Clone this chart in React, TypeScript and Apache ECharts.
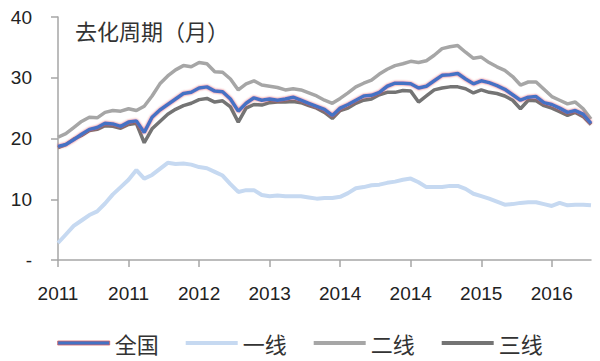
import React, { useEffect, useRef } from "react";
import * as echarts from "echarts";

// Monthly categories 2011-01 .. 2016-09
const months: string[] = [];
for (let y = 2011; y <= 2016; y++) {
  for (let m = 1; m <= 12; m++) {
    if (y === 2016 && m > 9) break;
    months.push(`${y}-${m < 10 ? "0" + m : m}`);
  }
}

const seriesNames = ["全国", "一线", "二线", "三线"];
const seriesColors = ["#4472c4", "#c6d9f1", "#a6a6a6", "#747474"];

const national = [
  18.7, 19.0, 19.8, 20.7, 21.5, 21.8, 22.5, 22.4, 22.0, 22.7, 22.9, 21.0,
  23.5, 24.7, 25.6, 26.5, 27.4, 27.6, 28.3, 28.5, 27.8, 27.7, 26.5, 24.5,
  25.8, 26.7, 26.3, 26.5, 26.3, 26.5, 26.8, 26.3, 25.8, 25.3, 24.8, 23.8,
  25.0, 25.6, 26.3, 27.0, 27.1, 27.6, 28.6, 29.1, 29.1, 29.0, 28.3, 28.6,
  29.5, 30.4, 30.5, 30.7, 29.8, 29.0, 29.5, 29.2, 28.7, 28.1, 27.2, 26.3,
  26.8, 26.9, 25.9, 25.6, 25.0, 24.3, 24.6, 24.0, 22.5,
];

const tier1 = [
  2.8, 4.2, 5.6, 6.5, 7.4, 8.0, 9.3, 10.8, 12.0, 13.2, 14.8, 13.4,
  14.0, 15.0, 16.0, 15.8, 15.9, 15.7, 15.3, 15.1, 14.5, 13.9, 12.5, 11.2,
  11.5, 11.5, 10.7, 10.5, 10.6, 10.5, 10.5, 10.5, 10.3, 10.1, 10.2, 10.2,
  10.4, 11.0, 11.8, 12.0, 12.3, 12.4, 12.7, 12.9, 13.2, 13.4, 12.8, 12.0,
  12.0, 12.0, 12.2, 12.2, 11.7, 10.9, 10.5, 10.1, 9.6, 9.1, 9.2, 9.4,
  9.5, 9.5, 9.2, 8.9, 9.4, 9.0, 9.1, 9.1, 9.0,
];

const tier2 = [
  20.2, 20.8, 21.8, 22.8, 23.5, 23.4, 24.3, 24.6, 24.5, 24.9, 24.6, 25.3,
  27.0, 29.0, 30.3, 31.3, 32.0, 31.8, 32.5, 32.3, 31.0, 30.9, 29.8, 28.0,
  29.0, 29.5, 28.8, 28.6, 28.4, 28.0, 28.2, 28.0, 27.5, 27.0, 26.3, 25.8,
  26.6, 27.5, 28.5, 29.1, 29.6, 30.6, 31.4, 32.0, 32.3, 32.7, 32.5, 32.8,
  33.7, 34.8, 35.1, 35.3, 34.2, 33.2, 33.4, 32.5, 31.8, 31.2, 30.2, 28.8,
  29.3, 29.3, 28.1, 26.9, 26.3, 25.7, 26.0, 24.9, 23.2,
];

const tier3 = [
  18.5, 19.0, 19.9, 20.5, 21.3, 21.5, 22.1, 22.0, 21.7, 22.3, 22.5, 19.3,
  21.6, 22.8, 24.0, 24.8, 25.4, 25.8, 26.4, 26.6, 26.0, 26.2, 25.2, 22.7,
  25.0, 25.6, 25.5, 25.9, 26.0, 26.0, 26.1, 25.9, 25.4, 25.0, 24.3, 23.3,
  24.6, 25.0, 25.8, 26.3, 26.5, 27.2, 27.6, 27.6, 27.9, 27.8, 26.0, 27.0,
  28.0, 28.3, 28.5, 28.5, 28.2, 27.5, 28.0, 27.6, 27.4, 27.0, 26.3, 24.9,
  26.3, 26.2, 25.4, 25.0, 24.4, 23.8, 24.3, 23.6, 22.3,
];

const titleText = "去化周期（月）";

export default function App() {
  const ref = useRef<HTMLDivElement>(null);
  useEffect(() => {
    document.body.style.margin = "0";
    if (!ref.current) return;
    const chart = echarts.init(ref.current, undefined, { renderer: "svg" });
    const latin = "Liberation Sans";
    const cjk = "Noto Sans CJK SC";
    chart.setOption({
      animation: false,
      title: {
        text: titleText,
        left: 70,
        top: 14,
        textStyle: { fontFamily: cjk, fontSize: 22, fontWeight: "normal", color: "#333" },
      },
      legend: {
        data: seriesNames.map((n, i) => ({
          name: n,
          icon: "rect",
          itemStyle:
            i === 0
              ? { color: seriesColors[i], borderColor: "#d86060", borderWidth: 0.8 }
              : { color: seriesColors[i], borderWidth: 0 },
        })),
        bottom: 2,
        left: "center",
        itemWidth: 52,
        itemHeight: 4,
        itemGap: 27,
        textStyle: { fontFamily: cjk, fontSize: 22, color: "#333" },
      },
      grid: { left: 58, right: 9, top: 17, bottom: 101, containLabel: false },
      xAxis: {
        type: "category",
        data: months,
        boundaryGap: false,
        axisLine: { lineStyle: { color: "#a6a6a6", width: 1.5 } },
        axisTick: { show: true, interval: 8, length: 7, lineStyle: { color: "#a6a6a6", width: 1.5 } },
        axisLabel: {
          interval: 8,
          margin: 24,
          fontFamily: latin,
          fontSize: 19,
          color: "#222",
          formatter: (v: string) => v.slice(0, 4),
        },
      },
      yAxis: {
        type: "value",
        min: 0,
        max: 40,
        interval: 10,
        splitLine: { show: false },
        axisLine: { show: true, lineStyle: { color: "#a6a6a6", width: 1.5 } },
        axisTick: { show: true, length: 7, lineStyle: { color: "#a6a6a6", width: 1.5 } },
        axisLabel: {
          margin: 26,
          fontFamily: latin,
          fontSize: 19,
          color: "#222",
          formatter: (v: number) => (v === 0 ? "-" : String(v)),
        },
      },
      series: [
        {
          name: "全国",
          type: "line",
          data: national,
          symbol: "none",
          z: 5,
          lineStyle: { color: seriesColors[0], width: 3.5, shadowColor: "rgba(220,60,60,0.8)", shadowBlur: 2 },
          itemStyle: { color: seriesColors[0] },
        },
        {
          name: "一线",
          type: "line",
          data: tier1,
          symbol: "none",
          z: 2,
          lineStyle: { color: seriesColors[1], width: 4 },
          itemStyle: { color: seriesColors[1] },
        },
        {
          name: "二线",
          type: "line",
          data: tier2,
          symbol: "none",
          z: 3,
          lineStyle: { color: seriesColors[2], width: 3.5 },
          itemStyle: { color: seriesColors[2] },
        },
        {
          name: "三线",
          type: "line",
          data: tier3,
          symbol: "none",
          z: 4,
          lineStyle: { color: seriesColors[3], width: 3.5 },
          itemStyle: { color: seriesColors[3] },
        },
      ],
    });
    return () => chart.dispose();
  }, []);
  return <div ref={ref} style={{ width: 600, height: 361 }} />;
}
